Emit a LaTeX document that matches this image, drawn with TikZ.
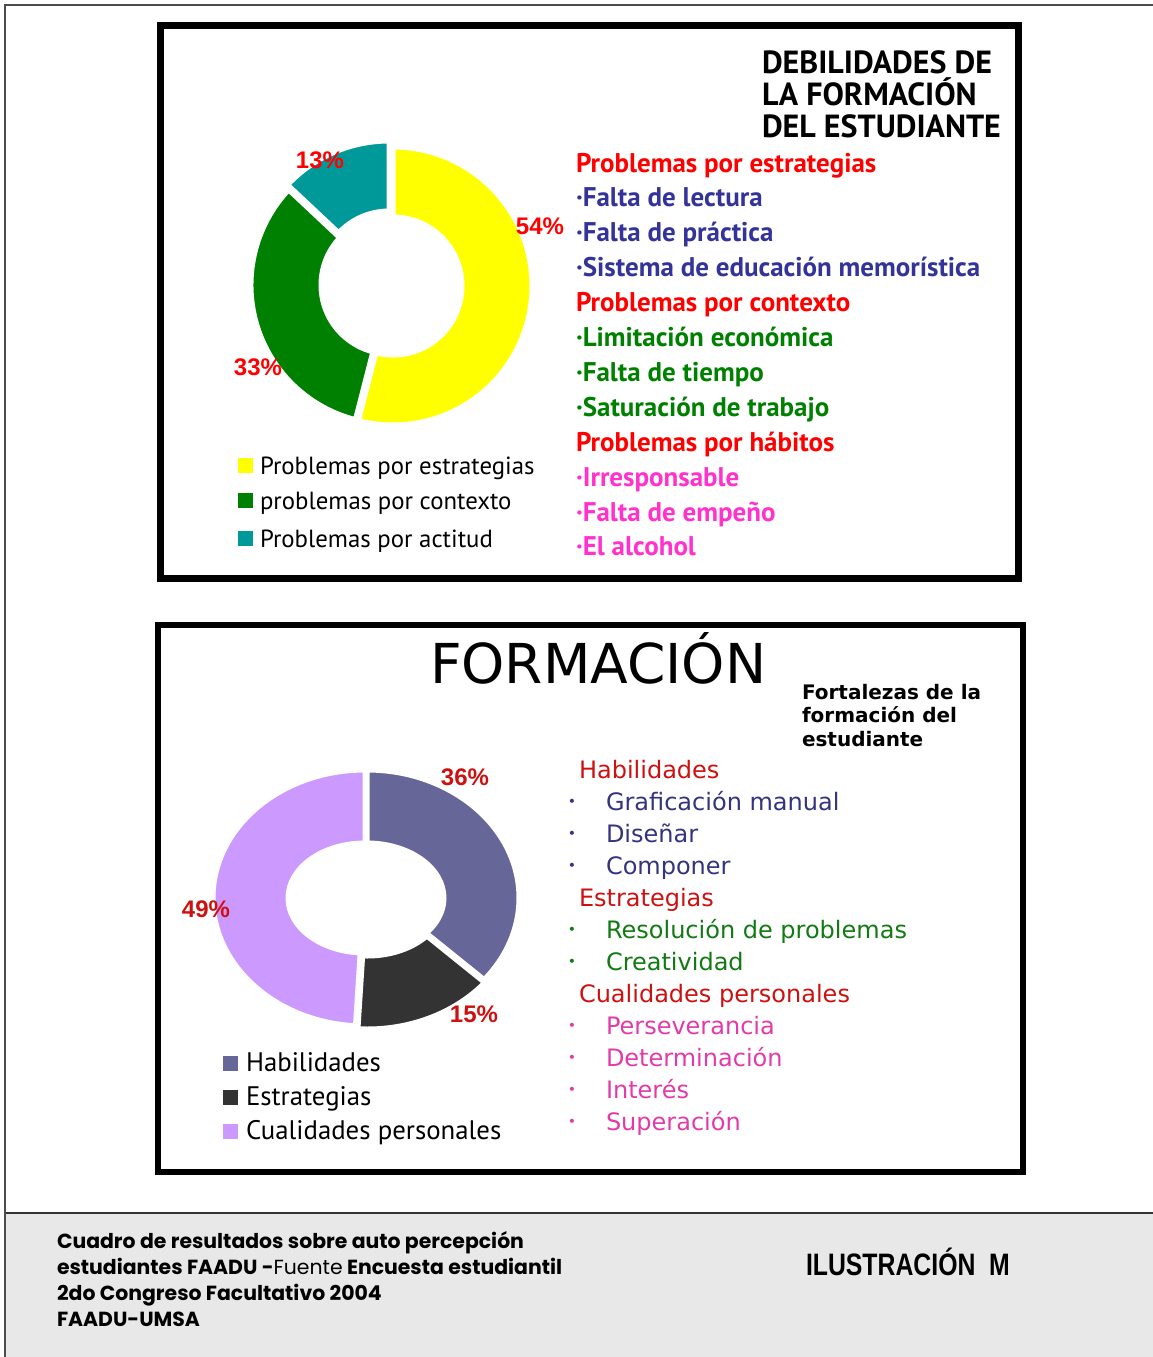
\documentclass[tikz,border=0pt]{standalone}
\usepackage{fontspec}
\setmainfont{DejaVu Sans}
\newfontfamily\listfont{PT Sans}
\newfontfamily\legfont{PT Sans}
\newfontfamily\pctfont{Liberation Sans}
\newfontfamily\footfont{Poppins}
\newfontfamily\narrowfont[FakeStretch=0.8]{Liberation Sans}

\definecolor{pyellow}{HTML}{FFFF00}
\definecolor{pgreen}{HTML}{008000}
\definecolor{pteal}{HTML}{009999}
\definecolor{tred}{HTML}{FF0000}
\definecolor{tblue}{HTML}{333399}
\definecolor{tmag}{HTML}{FF33CC}
\definecolor{hred}{HTML}{CC1111}
\definecolor{sblue}{HTML}{33337F}
\definecolor{sgreen}{HTML}{127A12}
\definecolor{smag}{HTML}{E23AA8}
\definecolor{pslate}{HTML}{666699}
\definecolor{pdark}{HTML}{333333}
\definecolor{plilac}{HTML}{CC99FF}
\definecolor{footgray}{HTML}{E8E8E8}

\tikzset{
  every node/.style={inner sep=0pt, outer sep=0pt},
  frame/.style={draw=black},
  ring/.style={draw=white, line width=2.5pt},
  pct/.style={font=\pctfont\bfseries\fontsize{12}{14}\selectfont},
  wlist/.style={anchor=base west, font=\listfont\bfseries\fontsize{13.5}{16}\selectfont},
  slist/.style={anchor=base west, font=\fontsize{12}{14}\selectfont},
  legtext/.style={anchor=base west, font=\legfont\fontsize{12.4}{14}\selectfont},
  legbox/.style={minimum size=7.5pt, inner sep=0pt},
  foot/.style={anchor=base west, font=\footfont\bfseries\fontsize{10.2}{12}\selectfont},
}

\begin{document}
\begin{tikzpicture}[x=0.5pt, y=0.5pt]
\useasboundingbox (0,0) rectangle (1153,-1357);

% page edge and caption band
\fill[footgray] (6,-1214) rectangle (1153,-1357);
\draw[line width=1pt, black!80] (1153,-1213) -- (6,-1213);
\draw[line width=1pt, black!70] (5,-1357) -- (5,-5) -- (1153,-5);

% ---- debilidades ----
\draw[frame, line width=3.5pt] (160.5,-25) rectangle (1018.5,-578);

\foreach \a/\b/\col/\dx/\dy in {90/-104.4/pyellow/2/-1, -104.4/-223.2/pgreen/-1/0, 136.8/90/pteal/-2/5}{
  \begin{scope}[shift={(391+\dx,-285+\dy)}]
    \filldraw[ring, fill=\col] (\a:139) arc[start angle=\a, end angle=\b, radius=139]
      -- (\b:69) arc[start angle=\b, end angle=\a, radius=69] -- cycle;
  \end{scope}
}
\node[pct, text=tred] (p13) at (320,-160) {13\%};
\node[pct, text=tred] (p54) at (540,-226) {54\%};
\node[pct, text=tred] (p33) at (258,-367) {33\%};

\foreach \i/\txt in {0/DEBILIDADES DE, 1/LA FORMACIÓN, 2/DEL ESTUDIANTE}
  \node[anchor=base west, font=\listfont\bfseries\fontsize{16}{18}\selectfont] (dt\i) at (762,{-73-32*\i}) {\txt};

\foreach \i/\txt/\col in {0/Problemas por estrategias/tred, 1/·Falta de lectura/tblue,
    2/·Falta de práctica/tblue, 3/·Sistema de educación memorística/tblue,
    4/Problemas por contexto/tred, 5/·Limitación económica/pgreen,
    6/·Falta de tiempo/pgreen, 7/·Saturación de trabajo/pgreen,
    8/Problemas por hábitos/tred, 9/·Irresponsable/tmag,
    10/·Falta de empeño/tmag, 11/·El alcohol/tmag}
  \node[wlist, text=\col] (dw\i) at (576,{-172-34.9*\i}) {\txt};

\node[legbox, fill=pyellow] (dk1) at (245.5,-465.5) {};
\node[legbox, fill=pgreen] (dk2) at (245.5,-500.5) {};
\node[legbox, fill=pteal] (dk3) at (245.5,-538.5) {};
\node[legtext] (dl1) at (260,-474) {Problemas por estrategias};
\node[legtext] (dl2) at (260,-509) {problemas por contexto};
\node[legtext] (dl3) at (260,-547) {Problemas por actitud};

% ---- fortalezas ----
\draw[frame, line width=3pt] (158,-625) rectangle (1023,-1171.5);

\node[anchor=base west, font=\fontsize{27.5}{30}\selectfont] (ft) at (430,-683) {FORMACIÓN};
\foreach \i/\txt in {0/Fortalezas de la, 1/formación del, 2/estudiante}
  \node[anchor=base west, font=\bfseries\fontsize{10}{12}\selectfont] (fs\i) at (802,{-699-23.5*\i}) {\txt};

\foreach \a/\b/\col/\dx/\dy in {90/-39.6/pslate/1/0, -39.6/-93.6/pdark/1.5/-3, -93.6/-270/plilac/-1/0}{
  \begin{scope}[shift={(366+\dx,-898+\dy)}]
    \filldraw[ring, fill=\col] (\a:152 and 128) arc[start angle=\a, end angle=\b, x radius=152, y radius=128]
      -- (\b:77 and 55) arc[start angle=\b, end angle=\a, x radius=77, y radius=55] -- cycle;
  \end{scope}
}
\node[pct, text=hred] (p36) at (465,-777) {36\%};
\node[pct, text=hred] (p49) at (206,-909) {49\%};
\node[pct, text=hred] (p15) at (474,-1014) {15\%};

\foreach \i/\txt in {0/Habilidades, 4/Estrategias, 7/Cualidades personales}
  \node[slist, text=hred] (fh\i) at (579,{-778-32*\i}) {\txt};
\foreach \i/\txt/\col in {1/Graficación manual/sblue, 2/Diseñar/sblue, 3/Componer/sblue,
    5/Resolución de problemas/sgreen, 6/Creatividad/sgreen,
    8/Perseverancia/smag, 9/Determinación/smag, 10/Interés/smag, 11/Superación/smag}{
  \node[anchor=center, text=\col, font=\fontsize{7}{8}\selectfont] (fb\i) at (572,{-771-32*\i}) {•};
  \node[slist, text=\col] (fi\i) at (606,{-778-32*\i}) {\txt};
}

\node[legbox, fill=pslate] (fk1) at (230.5,-1063) {};
\node[legbox, fill=pdark] (fk2) at (230.5,-1097) {};
\node[legbox, fill=plilac] (fk3) at (230.5,-1131) {};
\node[legtext, font=\legfont\fontsize{13.4}{15}\selectfont] (fl1) at (246,-1071) {Habilidades};
\node[legtext, font=\legfont\fontsize{13.4}{15}\selectfont] (fl2) at (246,-1105) {Estrategias};
\node[legtext, font=\legfont\fontsize{13.4}{15}\selectfont] (fl3) at (246,-1139) {Cualidades personales};

% ---- caption ----
\foreach \i/\txt in {0/Cuadro de resultados sobre auto percepción,
    1/estudiantes FAADU -{\mdseries Fuente} Encuesta estudiantil,
    2/2do Congreso Facultativo 2004, 3/FAADU-UMSA}
  \node[foot] (cap\i) at (57,{-1248-26.3*\i}) {\txt};
\node[anchor=base west, font=\narrowfont\bfseries\fontsize{15.5}{18}\selectfont] (ilu) at (806,-1275) {ILUSTRACIÓN\ \ M};

\end{tikzpicture}
\end{document}
